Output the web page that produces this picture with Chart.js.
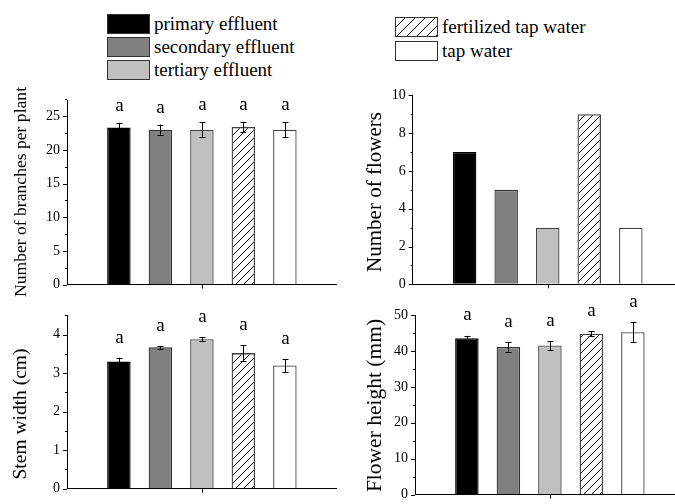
<!DOCTYPE html>
<html>
<head>
<meta charset="utf-8">
<script src="https://cdn.jsdelivr.net/npm/chart.js@4"></script>
<style>
html, body { margin: 0; padding: 0; width: 675px; height: 504px; overflow: hidden; background: #fff; position: relative; }
canvas { position: absolute; }
.sw { position: absolute; box-sizing: border-box; border: 1px solid #333; }
.lt { position: absolute; font-family: "Liberation Serif", Tinos, "DejaVu Serif", serif; font-size: 19px; line-height: 20px; color: #000; white-space: nowrap; }
</style>
</head>
<body>
<div id="legend"></div>
<canvas id="branches" width="340" height="220" style="left:0;top:80px"></canvas>
<canvas id="flowers" width="345" height="220" style="left:340px;top:80px"></canvas>
<canvas id="stem" width="340" height="204" style="left:0;top:300px"></canvas>
<canvas id="height" width="345" height="220" style="left:340px;top:290px"></canvas>
<script>
const treatments = ['primary effluent', 'secondary effluent', 'tertiary effluent', 'fertilized tap water', 'tap water'];

// values
const branches = [23.3, 23.0, 23.0, 23.4, 23.0];
const branchesErr = [0.7, 0.75, 1.1, 0.75, 1.1];
const flowers = [7, 5, 3, 9, 3];
const stemWidth = [3.3, 3.67, 3.88, 3.52, 3.2];
const stemErr = [0.1, 0.03, 0.05, 0.21, 0.17];
const flowerHeight = [43.5, 41.1, 41.5, 44.8, 45.2];
const heightErr = [0.7, 1.3, 1.25, 0.7, 2.8];
const letters = ['a', 'a', 'a', 'a', 'a'];

const serif = '"Liberation Serif", Tinos, "DejaVu Serif", serif';

// hatch for fertilized tap water
const pc = document.createElement('canvas');
pc.width = 8; pc.height = 8;
const pctx = pc.getContext('2d');
pctx.strokeStyle = '#000';
pctx.lineWidth = 1;
pctx.beginPath();
pctx.moveTo(0, 8); pctx.lineTo(8, 0);
pctx.moveTo(-1, 1); pctx.lineTo(1, -1);
pctx.moveTo(7, 9); pctx.lineTo(9, 7);
pctx.stroke();
const hatch = pctx.createPattern(pc, 'repeat');

const fills = ['#000000', '#808080', '#c0c0c0', hatch, '#ffffff'];
const edges = ['#000000', '#333333', '#444444', '#444444', '#444444'];
const cssFills = ['#000', '#808080', '#c0c0c0',
  'repeating-linear-gradient(135deg, #fff 0 6px, #000 6px 7px)', '#fff'];

// legend, two blocks
const legendPos = [[107, 14], [107, 37], [107, 60], [395, 17], [395, 40.5]];
const legend = document.getElementById('legend');
treatments.forEach((t, i) => {
  const sw = document.createElement('div');
  sw.className = 'sw';
  sw.style.left = legendPos[i][0] + 'px';
  sw.style.top = legendPos[i][1] + 'px';
  sw.style.width = '43px';
  sw.style.height = '20px';
  sw.style.background = cssFills[i];
  legend.appendChild(sw);
  const lt = document.createElement('div');
  lt.className = 'lt';
  lt.style.left = (legendPos[i][0] + 47) + 'px';
  lt.style.top = legendPos[i][1] + 'px';
  lt.textContent = t;
  legend.appendChild(lt);
});

// axis title, ticks, error bars and letters
const marks = {
  id: 'marks',
  afterDatasetsDraw(chart, args, o) {
    const ctx = chart.ctx, xs = chart.scales.x, ys = chart.scales.y, area = chart.chartArea;
    ctx.save();
    ctx.fillStyle = '#000';
    ctx.strokeStyle = '#000';
    ctx.lineWidth = 1;

    ctx.save();
    ctx.translate(o.tx, o.ty);
    ctx.rotate(-Math.PI / 2);
    ctx.font = o.tsize + 'px ' + serif;
    ctx.textAlign = 'center';
    ctx.textBaseline = 'middle';
    ctx.fillText(o.title, 0, 0);
    ctx.restore();

    const n = Math.round(ys.max / o.minor);
    for (let k = 0; k <= n; k++) {
      const v = k * o.minor;
      const py = Math.round(ys.getPixelForValue(v)) + 0.5;
      const major = Math.abs(v / o.major - Math.round(v / o.major)) < 1e-6;
      const len = major ? 4 : 2;
      ctx.beginPath();
      ctx.moveTo(area.left - len, py);
      ctx.lineTo(area.left, py);
      ctx.stroke();
    }
    const mx = Math.round(xs.getPixelForValue((treatments.length - 1) / 2)) + 0.5;
    ctx.beginPath();
    ctx.moveTo(mx, area.bottom);
    ctx.lineTo(mx, area.bottom + 4);
    ctx.stroke();

    if (o.err) {
      const meta = chart.getDatasetMeta(0);
      const vals = chart.data.datasets[0].data;
      ctx.font = '19px ' + serif;
      ctx.textAlign = 'center';
      ctx.textBaseline = 'alphabetic';
      o.err.forEach((e, i) => {
        const px = Math.round(meta.data[i].x) + 0.5;
        const top = ys.getPixelForValue(vals[i].y + e);
        const bot = ys.getPixelForValue(vals[i].y - e);
        ctx.beginPath();
        ctx.moveTo(px, top); ctx.lineTo(px, bot);
        ctx.moveTo(px - 3, Math.round(top) + 0.5); ctx.lineTo(px + 3, Math.round(top) + 0.5);
        ctx.moveTo(px - 3, Math.round(bot) + 0.5); ctx.lineTo(px + 3, Math.round(bot) + 0.5);
        ctx.stroke();
        if (o.letters) ctx.fillText(o.letters[i], px, top - o.letterGap);
      });
    }
    ctx.restore();
  }
};
Chart.register(marks);

function panel(id, values, errors, yMax, major, minor, title, p) {
  return new Chart(document.getElementById(id), {
    type: 'bar',
    data: {
      datasets: [{
        data: values.map((v, i) => ({ x: i, y: v })),
        backgroundColor: fills,
        borderColor: edges,
        borderWidth: 1.3,
        categoryPercentage: 1,
        barPercentage: 0.566
      }]
    },
    options: {
      responsive: false,
      animation: false,
      devicePixelRatio: 1,
      layout: { padding: { top: p.top, right: p.right, left: 0, bottom: 0 } },
      plugins: {
        legend: { display: false },
        tooltip: { enabled: false },
        marks: {
          err: errors, letters: errors ? letters : null, letterGap: p.gap,
          major: major, minor: minor,
          title: title, tsize: p.tsize, tx: p.tx, ty: p.ty
        }
      },
      scales: {
        x: {
          type: 'linear', min: -1.25, max: 5.25, offset: false,
          ticks: { display: false },
          grid: { display: true, drawOnChartArea: false, drawTicks: false },
          border: { display: true, color: '#000', width: 1 },
          afterFit: s => { s.height = p.xh; }
        },
        y: {
          min: 0, max: yMax,
          ticks: { stepSize: major, includeBounds: false, padding: 7, color: '#000', font: { family: serif, size: 14 } },
          grid: { display: true, drawOnChartArea: false, drawTicks: false },
          border: { display: true, color: '#000', width: 1 },
          afterFit: s => { s.width = p.yw; }
        }
      }
    }
  });
}

panel('branches', branches, branchesErr, 27.4, 5, 2.5, 'Number of branches per plant',
  { top: 20, right: 3.25, xh: 10.7, yw: 67, tsize: 17.6, tx: 21, ty: 112, gap: 12 });
panel('flowers', flowers, null, 10, 2, 1, 'Number of flowers',
  { top: 15, right: 2.25, xh: 15.7, yw: 72.7, tsize: 21, tx: 35, ty: 112, gap: 15 });
panel('stem', stemWidth, stemErr, 4.5, 1, 0.5, 'Stem width (cm)',
  { top: 10, right: 3.25, xh: 4, yw: 67, tsize: 19.5, tx: 21, ty: 114, gap: 15 });
panel('height', flowerHeight, heightErr, 50, 10, 5, 'Flower height (mm)',
  { top: 25, right: 0.25, xh: 6.5, yw: 75, tsize: 21.5, tx: 35, ty: 115.5, gap: 15.5 });
</script>
</body>
</html>
